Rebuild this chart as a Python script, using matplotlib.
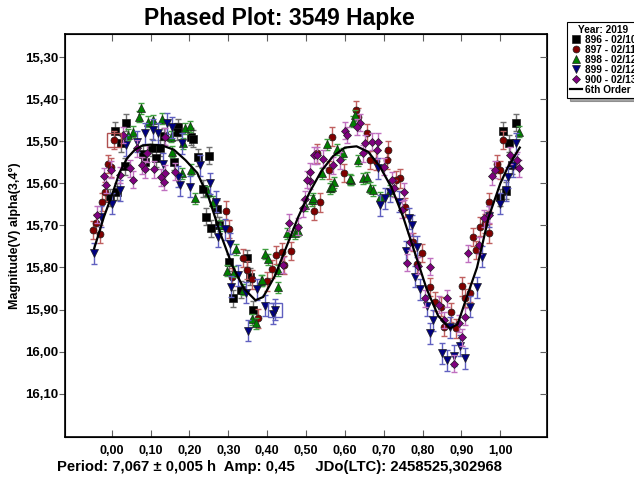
import matplotlib.pyplot as plt

# sessions (phase, magnitude)
ph_896 = [0.008, 0.036, 0.023, 0.104, 0.113, 0.124, 0.135, 0.171, 0.167, 0.204, 0.210, 0.250, 0.222, 0.160, 0.085,
          0.081, 0.034, 0.015, -0.003, 0.234, 0.242, 0.255, 0.270, 0.302, 0.311, 0.347, 0.356, 0.332, 0.364, 0.275,
          1.006, 1.039, 1.021, 1.030, 1.015, 0.998]
mag_896 = [15.475, 15.456, 15.505, 15.515, 15.540, 15.516, 15.488, 15.467, 15.477, 15.489, 15.494, 15.534, 15.538,
           15.549, 15.549, 15.530, 15.559, 15.620, 15.634, 15.613, 15.679, 15.707, 15.660, 15.788, 15.873, 15.778,
           15.822, 15.853, 15.900, 15.700, 15.475, 15.456, 15.505, 15.557, 15.618, 15.633]

ph_897 = [-0.048, -0.031, -0.040, -0.024, -0.009, -0.001, 0.006, -0.018,
          0.293, 0.302, 0.310, 0.338, 0.347, 0.362, 0.377, 0.399, 0.413, 0.423, 0.437, 0.461, 0.443,
          0.521, 0.536, 0.598, 0.629, 0.635, 0.566, 0.528, 0.558, 0.656, 0.665, 0.680, 0.712, 0.708, 0.742,
          0.732, 0.755, 0.785, 0.818, 0.831, 0.847, 0.856, 0.874, 0.887, 0.901, 0.910, 0.930, 0.938, 0.947,
          0.961, 0.972, 0.991, 0.998, 1.006, 0.776, 0.798, 0.923, 0.972]
mag_897 = [15.711, 15.720, 15.695, 15.644, 15.554, 15.562, 15.497, 15.620,
           15.665, 15.709, 15.823, 15.777, 15.806, 15.828, 15.921, 15.833, 15.804, 15.770, 15.763, 15.761, 15.794,
           15.665, 15.645, 15.576, 15.426, 15.442, 15.489, 15.529, 15.568, 15.481, 15.545, 15.546, 15.521, 15.545,
           15.588, 15.592, 15.657, 15.792, 15.847, 15.881, 15.893, 15.941, 15.907, 15.945, 15.845, 15.873, 15.727,
           15.758, 15.703, 15.695, 15.719, 15.554, 15.568, 15.497, 15.739, 15.766, 15.860, 15.644]

ph_898 = [0.075, 0.070, 0.094, 0.106, 0.130, 0.055, 0.042, 0.152, 0.188, 0.201, 0.184, 0.181, 0.154, 0.214, 0.205,
          0.248, 0.261, 0.278, 0.320, 0.297, 0.315, 0.338, 0.360, 0.371, 0.383, 0.394, 0.427, 0.429, 0.450, 0.472,
          0.515, 0.386, 0.403, 0.480, 0.562, 0.571, 0.615,
          0.626, 0.622, 0.555, 0.579, 0.596, 0.635, 0.613, 0.646, 0.656, 0.665, 0.673, 0.691, 0.715, 0.566, 0.517,
          0.497, 0.541, 1.047]
mag_898 = [15.422, 15.442, 15.454, 15.450, 15.446, 15.477, 15.485, 15.489, 15.469, 15.464, 15.505, 15.576, 15.525,
           15.636, 15.568, 15.620, 15.644, 15.700, 15.757, 15.808, 15.810, 15.853, 15.923, 15.933, 15.831, 15.768,
           15.847, 15.807, 15.719, 15.719, 15.640, 15.830, 15.781, 15.713, 15.612, 15.598, 15.592,
           15.438, 15.454, 15.507, 15.519, 15.529, 15.545, 15.590, 15.588, 15.586, 15.610, 15.616, 15.633, 15.616,
           15.608, 15.636, 15.652, 15.576, 15.477]

ph_899 = [-0.046, -0.027, 0.002, 0.021, 0.038, 0.064, 0.085, 0.106, 0.119, 0.143, 0.154, 0.180, 0.132, 0.175, 0.201,
          0.171, 0.227, 0.253, 0.268, 0.274, 0.291, 0.304, 0.326, 0.308, 0.345, 0.350, 0.375, 0.394, 0.416, 0.420,
          0.691, 0.704, 0.716, 0.686, 0.738, 0.766, 0.772, 0.758, 0.785, 0.781, 0.794, 0.811, 0.820, 0.828, 0.850,
          0.864, 0.880, 0.871, 0.897, 0.910, 0.923, 0.940, 0.953, 0.972, 0.998, 1.015, 1.019, 1.033, 1.041]
mag_899 = [15.766, 15.679, 15.648, 15.616, 15.509, 15.501, 15.481, 15.473, 15.481, 15.457, 15.467, 15.505, 15.554,
           15.604, 15.608, 15.584, 15.557, 15.600, 15.644, 15.727, 15.709, 15.744, 15.818, 15.846, 15.860, 15.950,
           15.852, 15.891, 15.910, 15.900,
           15.652, 15.636, 15.620, 15.564, 15.644, 15.683, 15.700, 15.762, 15.751, 15.822, 15.852, 15.891, 15.956,
           15.925, 16.004, 16.021, 16.010, 15.942, 15.986, 16.016, 15.893, 15.847, 15.774, 15.678, 15.648, 15.616,
           15.586, 15.559, 15.505]

ph_900 = [-0.037, -0.020, -0.014, -0.001, 0.021, 0.029, 0.046, 0.055, 0.064, 0.078, 0.085, 0.092, 0.109, 0.126,
          0.137, 0.135, 0.162, 0.137, 0.441, 0.480, 0.456, 0.493, 0.497, 0.510, 0.521,
          0.528, 0.510, 0.502, 0.545, 0.569, 0.588, 0.601, 0.605, 0.639, 0.631, 0.652, 0.669, 0.684, 0.682, 0.646,
          0.701, 0.721, 0.727, 0.753, 0.747, 0.768, 0.761, 0.789, 0.820, 0.807, 0.841, 0.863, 0.854, 0.881, 0.901,
          0.893, 0.910, 0.918, 0.944, 0.957, 0.970, 0.979, 0.987, 1.043, 1.047, 1.026]
mag_900 = [15.675, 15.583, 15.604, 15.568, 15.580, 15.485, 15.564, 15.591, 15.517, 15.557, 15.567, 15.529, 15.567,
           15.586, 15.576, 15.596, 15.572, 15.489, 15.794, 15.703, 15.694, 15.659, 15.638, 15.594, 15.533,
           15.533, 15.572, 15.591, 15.541, 15.557, 15.545, 15.475, 15.485, 15.456, 15.466, 15.505, 15.501, 15.501,
           15.521, 15.529, 15.560, 15.592, 15.612, 15.620, 15.663, 15.739, 15.789, 15.796, 15.798, 15.873, 15.889,
           15.873, 15.925, 16.029, 15.966, 15.933, 15.917, 15.766, 15.747, 15.683, 15.675, 15.583, 15.568, 15.545,
           15.564, 15.533]

erros = [0.020, 0.022, 0.013, 0.025, 0.020]

# 6th order fit
fit_ph = [-0.045, -0.02, 0.0, 0.02, 0.04, 0.06, 0.08, 0.10, 0.13, 0.16, 0.19, 0.22, 0.25, 0.28, 0.31, 0.34, 0.37,
          0.39, 0.42, 0.45, 0.48, 0.51, 0.54, 0.57, 0.60, 0.63, 0.66, 0.69, 0.72, 0.75, 0.78, 0.81, 0.84, 0.87,
          0.89, 0.91, 0.94, 0.97, 1.00, 1.02, 1.05]
fit_mag = [15.755, 15.68, 15.63, 15.575, 15.54, 15.52, 15.51, 15.508, 15.51, 15.52, 15.545, 15.575, 15.635, 15.72,
           15.795, 15.85, 15.878, 15.87, 15.82, 15.75, 15.68, 15.62, 15.57, 15.535, 15.515, 15.512, 15.525, 15.56,
           15.61, 15.68, 15.765, 15.85, 15.915, 15.945, 15.935, 15.88, 15.80, 15.68, 15.60, 15.56, 15.515]

# pontos marcados com quadrado aberto
box_ph = [0.006, 0.420]
box_mag = [15.497, 15.900]
box_cor = ['#b05050', '#6060c0']

sessoes = [(ph_896, mag_896), (ph_897, mag_897), (ph_898, mag_898), (ph_899, mag_899), (ph_900, mag_900)]
nomes = ['896 - 02/10', '897 - 02/11', '898 - 02/12', '899 - 02/12', '900 - 02/13']
cores = ['#000000', '#800000', '#008000', '#000080', '#800080']
cores_erro = ['#707070', '#c06060', '#40a040', '#6060c0', '#c070c0']
marcadores = ['s', 'o', '^', 'v', 'D']
tamanhos = [5.3, 5, 5.5, 5.5, 4.3]

fig = plt.figure(figsize=(6.34, 4.79), dpi=100)
ax = fig.add_axes([65 / 634, 1 - 437 / 479, 482 / 634, 403 / 479])

for i in range(len(sessoes)):
    ph, mag = sessoes[i]
    ax.errorbar(ph, mag, yerr=erros[i], fmt='none', ecolor=cores_erro[i], elinewidth=1, capsize=2.5, capthick=1,
                zorder=2 + i)
    ax.plot(ph, mag, ls='none', marker=marcadores[i], ms=tamanhos[i], mfc=cores[i], mec='#202020', mew=0.5,
            zorder=2.5 + i, label=nomes[i])

ax.plot(fit_ph, fit_mag, c='black', lw=1.6, zorder=10, label='6th Order')
for i in range(len(box_ph)):
    ax.plot(box_ph[i], box_mag[i], marker='s', ms=10, mfc='none', mec=box_cor[i], mew=1, zorder=9)

ax.set_xlim(-0.12, 1.12)
ax.set_ylim(16.203, 15.245)
ax.set_xticks([0.0, 0.1, 0.2, 0.3, 0.4, 0.5, 0.6, 0.7, 0.8, 0.9, 1.0])
ax.set_yticks([15.3, 15.4, 15.5, 15.6, 15.7, 15.8, 15.9, 16.0, 16.1])
ax.set_xticklabels([f'{v:.2f}'.replace('.', ',') for v in ax.get_xticks()])
ax.set_yticklabels([f'{v:.2f}'.replace('.', ',') for v in ax.get_yticks()])
ax.tick_params(axis='x', direction='in', top=True, length=5, width=0.8, color='#606060', labelsize=9, pad=6)
ax.tick_params(axis='y', direction='out', length=4, width=0.8, color='#606060', labelsize=9.5, pad=1)
for lab in ax.get_xticklabels() + ax.get_yticklabels():
    lab.set_fontweight('bold')
    lab.set_family('Liberation Sans')
for s in ax.spines.values():
    s.set_linewidth(1.2)

# ticks do lado direito, para dentro
ax2 = ax.twinx()
ax2.set_ylim(ax.get_ylim())
ax2.set_yticks(ax.get_yticks())
ax2.tick_params(axis='y', direction='in', length=5, width=0.8, color='#606060', labelright=False)

ax.set_ylabel('Magnitude(V) alpha(3,4°)', fontsize=9, fontweight='bold', family='Liberation Sans', labelpad=3)

fig.text(279 / 634, 1 - 18 / 479, 'Phased Plot: 3549 Hapke', ha='center', va='center', fontsize=16.5,
         fontweight='bold', family='Liberation Sans')
fig.text(57 / 634, 1 - 467 / 479, 'Period: 7,067 ± 0,005 h  Amp: 0,45     JDo(LTC): 2458525,302968',
         ha='left', va='center', fontsize=10.7, fontweight='bold', family='Liberation Sans')

leg = ax.legend(loc='upper left', bbox_to_anchor=(567 / 634, 1 - 22 / 479), bbox_transform=fig.transFigure,
                title='Year: 2019', fancybox=False, shadow=True, framealpha=1, edgecolor='black',
                prop={'family': 'Liberation Sans', 'weight': 'bold', 'size': 7.3},
                title_fontproperties={'family': 'Liberation Sans', 'weight': 'bold', 'size': 7.3},
                labelspacing=0.0, handlelength=1.2, handletextpad=0.3, borderpad=0.3, borderaxespad=0,
                markerscale=1.0)
leg.get_frame().set_linewidth(0.8)
leg.set_zorder(20)

plt.savefig('out.png', dpi=100)
